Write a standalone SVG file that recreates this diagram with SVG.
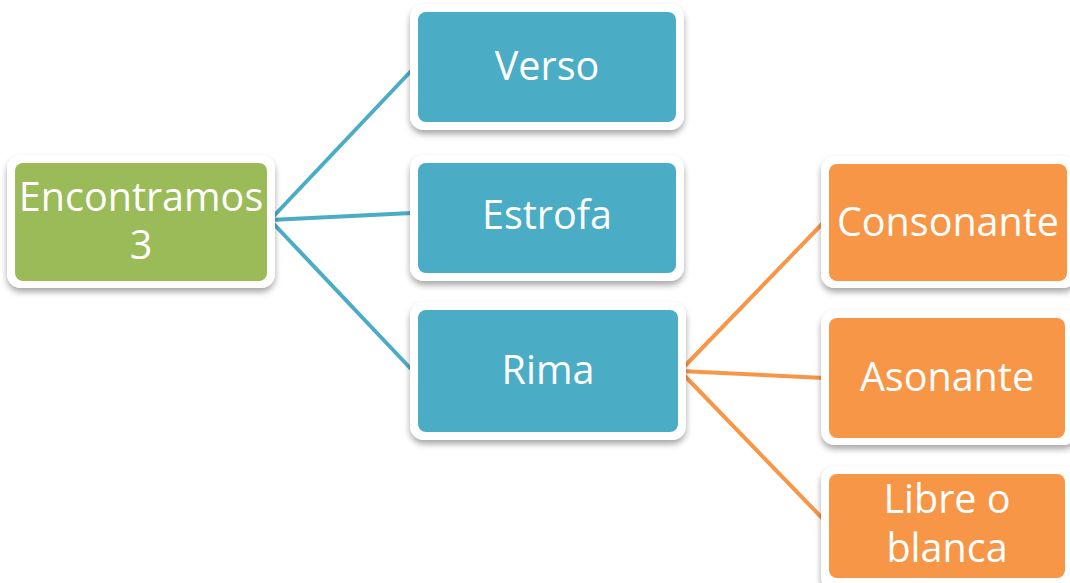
<svg xmlns="http://www.w3.org/2000/svg" width="1070" height="583" viewBox="0 0 1070 583">
<defs>
<filter id="sh" x="-10%" y="-10%" width="120%" height="130%">
<feDropShadow dx="0" dy="4" stdDeviation="3" flood-color="#000" flood-opacity="0.35"/>
</filter>
<style>
.out{fill:#fff;filter:url(#sh)}
.g{fill:#9BBB59}
.b{fill:#4BACC6}
.o{fill:#F79646}
.t{font-family:"Open Sans","Liberation Sans",sans-serif;font-size:39.5px;fill:#fff;text-anchor:middle}
.cb{stroke:#4BACC6;stroke-width:4;fill:none}
.co{stroke:#F79646;stroke-width:4;fill:none}
</style>
</defs>
<rect width="1070" height="583" fill="#fff"/>
<g id="connectors">
<line class="cb" x1="270" y1="220" x2="412" y2="70"/>
<line class="cb" x1="270" y1="220" x2="412" y2="213"/>
<line class="cb" x1="270" y1="220" x2="412" y2="370"/>
<line class="co" x1="680" y1="371" x2="824" y2="222"/>
<line class="co" x1="680" y1="371" x2="824" y2="378"/>
<line class="co" x1="680" y1="371" x2="824" y2="520"/>
</g>
<g id="encontramos">
<rect class="out" x="7" y="155" width="268" height="133" rx="14"/>
<rect class="g" x="15" y="163" width="252" height="118" rx="8"/>
<text class="t" x="141" y="211">Encontramos</text>
<text class="t" x="141" y="259">3</text>
</g>
<g id="verso">
<rect class="out" x="410" y="4" width="274" height="126" rx="14"/>
<rect class="b" x="418" y="12" width="258" height="110" rx="8"/>
<text class="t" x="547" y="80">Verso</text>
</g>
<g id="estrofa">
<rect class="out" x="410" y="155" width="274" height="126" rx="14"/>
<rect class="b" x="418" y="163" width="258" height="110" rx="8"/>
<text class="t" x="547" y="229">Estrofa</text>
</g>
<g id="rima">
<rect class="out" x="410" y="302" width="276" height="138" rx="14"/>
<rect class="b" x="418" y="310" width="260" height="122" rx="8"/>
<text class="t" x="548" y="384">Rima</text>
</g>
<g id="consonante">
<rect class="out" x="821" y="156" width="256" height="132" rx="14"/>
<rect class="o" x="829" y="164" width="238" height="117" rx="8"/>
<text class="t" x="948" y="236">Consonante</text>
</g>
<g id="asonante">
<rect class="out" x="821" y="310" width="256" height="135" rx="14"/>
<rect class="o" x="829" y="318" width="236" height="120" rx="8"/>
<text class="t" x="947" y="391">Asonante</text>
</g>
<g id="libre">
<rect class="out" x="821" y="466" width="256" height="125" rx="14"/>
<rect class="o" x="829" y="474" width="236" height="104" rx="8"/>
<text class="t" x="947" y="513">Libre o</text>
<text class="t" x="947" y="562">blanca</text>
</g>
</svg>
